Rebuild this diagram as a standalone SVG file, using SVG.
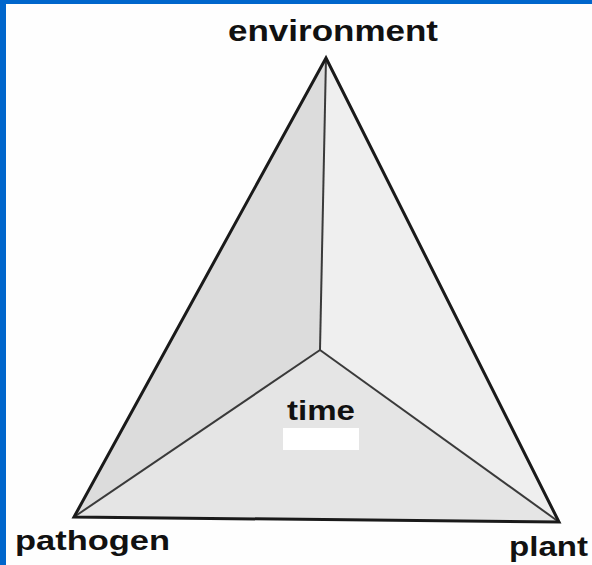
<svg xmlns="http://www.w3.org/2000/svg" width="592" height="565" viewBox="0 0 592 565">
<style>
.lbl{font-family:"Liberation Sans",Arial,sans-serif;font-weight:bold;fill:#111;}
.outer{fill:none;stroke:#1a1a1a;stroke-width:3;stroke-linejoin:miter;}
.inner{fill:none;stroke:#3a3a3a;stroke-width:2;}
</style>
<rect x="0" y="0" width="592" height="565" fill="#fefefe"/>
<rect x="0" y="0" width="592" height="4" fill="#0066cc"/>
<rect x="0" y="0" width="6" height="565" fill="#0066cc"/>
<g id="faces">
<polygon points="326,58 74,517 320,350" fill="#dcdcdc"/>
<polygon points="326,58 320,350 559,522" fill="#efefef"/>
<polygon points="74,517 320,350 559,522" fill="#e5e5e5"/>
</g>
<g id="connectors">
<line class="inner" x1="326" y1="58" x2="320" y2="350"/>
<line class="inner" x1="74" y1="517" x2="320" y2="350"/>
<line class="inner" x1="559" y1="522" x2="320" y2="350"/>
<polygon class="outer" points="326,58 74,517 559,522"/>
</g>
<g id="environment"><text class="lbl" x="228" y="41" font-size="29" textLength="210" lengthAdjust="spacingAndGlyphs">environment</text></g>
<g id="pathogen"><text class="lbl" x="15" y="550" font-size="27" textLength="155" lengthAdjust="spacingAndGlyphs">pathogen</text></g>
<g id="plant"><text class="lbl" x="509" y="556" font-size="27" textLength="79" lengthAdjust="spacingAndGlyphs">plant</text></g>
<g id="time"><text class="lbl" x="287" y="420" font-size="28" textLength="68" lengthAdjust="spacingAndGlyphs">time</text>
<rect x="283" y="428" width="76" height="22" fill="#ffffff"/></g>
</svg>
